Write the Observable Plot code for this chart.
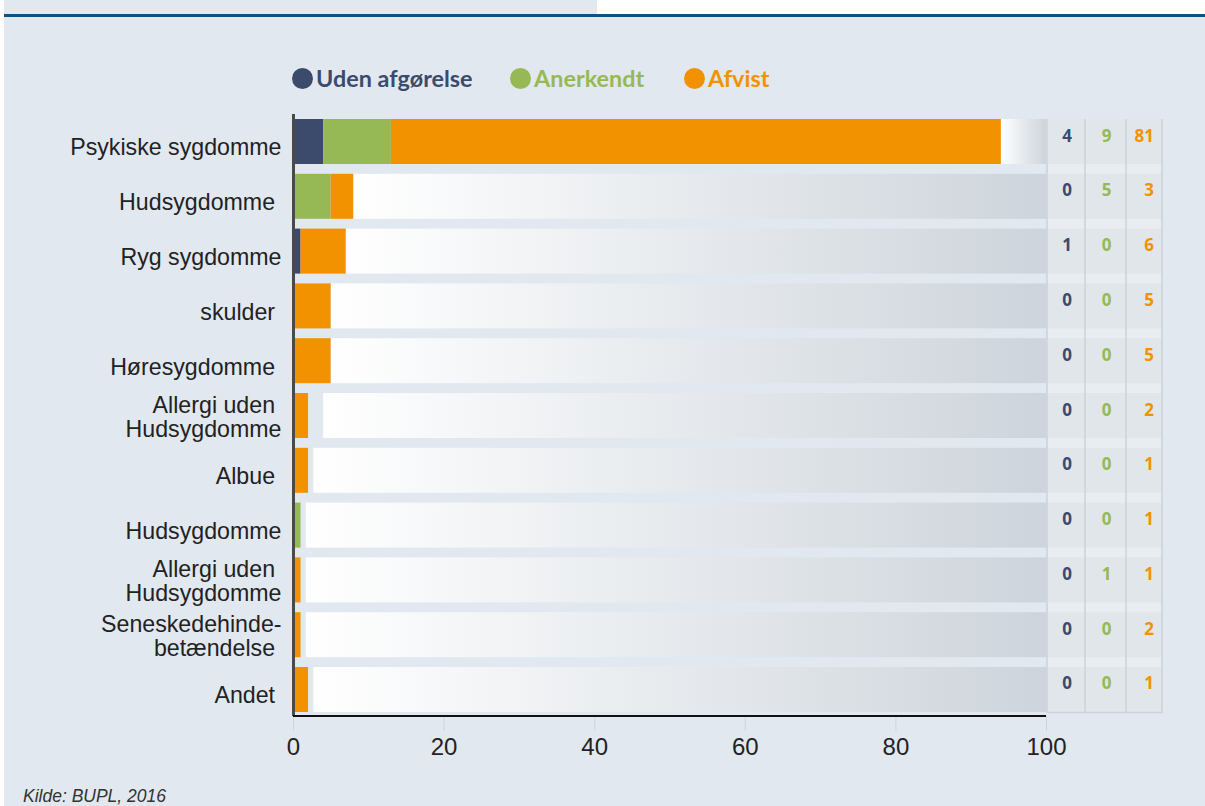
<!DOCTYPE html>
<html>
<head>
<meta charset="utf-8">
<script src="https://cdn.jsdelivr.net/npm/d3@7"></script>
<script src="https://cdn.jsdelivr.net/npm/@observablehq/plot@0.6"></script>
<style>
  html, body { margin: 0; padding: 0; background: #ffffff; width: 1205px; height: 806px; overflow: hidden; }
  #panel { position: absolute; left: 4px; top: 17px; width: 1201px; height: 789px; background: #e1e8f0; }
  #topleft { position: absolute; left: 4px; top: 0; width: 593px; height: 14px; background: #e1e8f0; }
  #topline { position: absolute; left: 4px; top: 14px; width: 1201px; height: 3px; background: #0d5282; }
  #chart { position: absolute; left: 0; top: 0; }
  .leg { position: absolute; top: 64px; height: 28px; display: flex; align-items: center; font-family: Lato, "Open Sans", sans-serif; font-weight: 700; font-size: 23.4px; line-height: 28px; white-space: nowrap; }
  .leg .dot { width: 21px; height: 21px; border-radius: 50%; margin-right: 3px; }
  #caption { position: absolute; left: 23px; top: 786px; font-family: "Liberation Sans", Arial, sans-serif; font-style: italic; font-size: 17.5px; line-height: 20px; color: #333; }
</style>
</head>
<body>
<div id="topleft"></div>
<div id="topline"></div>
<div id="panel"></div>
<div id="legend"></div>
<div id="chart"></div>
<div id="caption">Kilde: BUPL, 2016</div>
<script>
// ---- data ----
const categories = [
  "Psykiske sygdomme",
  "Hudsygdomme\u00a0",
  "Ryg sygdomme",
  "skulder\u00a0",
  "Høresygdomme\u00a0",
  "Allergi uden\u00a0\nHudsygdomme",
  "Albue\u00a0",
  "Hudsygdomme",
  "Allergi uden\u00a0\nHudsygdomme",
  "Seneskedehinde-\nbetændelse\u00a0",
  "Andet\u00a0"
];
const series = ["Uden afgørelse", "Anerkendt", "Afvist"];
const seriesColors = ["#3c4b6c", "#97b955", "#f39200"];
// bar lengths as drawn
const barUden      = [4, 0, 1, 0, 0, 0, 0, 0, 0, 0, 0];
const barAnerkendt = [9, 5, 0, 0, 0, 0, 0, 1, 0, 0, 0];
const barAfvist    = [81, 3, 6, 5, 5, 2, 2, 0, 1, 1, 2];
// where the pale remainder bar starts
const remainderStart = [94, 8, 7, 5, 5, 4, 2.7, 1.7, 1.7, 1.7, 2.7];
// numbers printed in the table on the right
const tabUden      = [4, 0, 1, 0, 0, 0, 0, 0, 0, 0, 0];
const tabAnerkendt = [9, 5, 0, 0, 0, 0, 0, 0, 1, 0, 0];
const tabAfvist    = [81, 3, 6, 5, 5, 2, 1, 1, 1, 2, 1];
const xTicks = [0, 20, 40, 60, 80, 100];
const xMax = 100;

// ---- derived tables ----
const idx = categories.map((_, i) => i);
const barSeries = [barUden, barAnerkendt, barAfvist];
const tabSeries = [tabUden, tabAnerkendt, tabAfvist];
const long = series.flatMap((s, k) => idx.map(i => ({i, s, v: barSeries[k][i]})));
const rest = idx.map(i => ({i, x1: remainderStart[i], x2: xMax}));
const multi = idx.filter(i => categories[i].includes("\n"));
const single = idx.filter(i => !categories[i].includes("\n"));

// ---- legend ----
const legendLeft = [292, 510, 684];
const legend = document.getElementById("legend");
series.forEach((s, k) => {
  const d = document.createElement("div");
  d.className = "leg";
  d.style.left = legendLeft[k] + "px";
  d.style.color = seriesColors[k];
  d.innerHTML = `<span class="dot" style="background:${seriesColors[k]}"></span><span>${s}</span>`;
  legend.appendChild(d);
});

const labelFont = '"Liberation Sans", Arial, sans-serif';
const plot = Plot.plot({
  width: 1205,
  height: 770,
  marginLeft: 293,
  marginRight: 159,
  marginTop: 114,
  marginBottom: 54,
  style: {background: "transparent", fontFamily: labelFont, color: "#222", overflow: "visible"},
  x: {domain: [0, xMax], label: null},
  y: {domain: idx, range: [109.2, 721.8], padding: 0.179, round: false, label: null},
  color: {domain: series, range: seriesColors},
  marks: [
    Plot.barX(rest, {x1: "x1", x2: "x2", y: "i", fill: "url(#restGrad)"}),
    Plot.barX(long, {x: "v", y: "i", fill: "s"}),
    Plot.ruleX([0], {stroke: "#4a4a4a", strokeWidth: 3}),
    Plot.axisX({ticks: xTicks, tickSize: 15, tickPadding: 6, stroke: "#cfd4da", fill: "#222", fontSize: 24, label: null}),
    Plot.axisY(single, {tickSize: 0, tickPadding: 12, tickFormat: i => categories[i], fontSize: 23.2, dy: 6, fill: "#222", label: null}),
    Plot.axisY(multi, {tickSize: 0, tickPadding: 12, tickFormat: i => categories[i], fontSize: 23.2, dy: 1, lineHeight: 1.04, fill: "#222", label: null})
  ]
});
document.getElementById("chart").appendChild(plot);

// gradient for the remainder bars
const svg = d3.select(plot);
const defs = svg.insert("defs", ":first-child");
const grad = defs.append("linearGradient").attr("id", "restGrad").attr("x1", "0").attr("x2", "1").attr("y1", "0").attr("y2", "0");
grad.append("stop").attr("offset", "0%").attr("stop-color", "#ffffff");
grad.append("stop").attr("offset", "100%").attr("stop-color", "#cdd4db");

const xs = plot.scale("x");
const ys = plot.scale("y");
const x100 = xs.apply(xMax);
const x0 = xs.apply(0);
const bw = ys.bandwidth;
const baseY = 770 - 54;

// baseline
svg.append("line").attr("x1", x0).attr("x2", x100).attr("y1", baseY).attr("y2", baseY)
  .attr("stroke", "#111").attr("stroke-width", 2);

// table
const edges = [1, 39, 80, 116];
const top0 = ys.apply(idx[0]);
const bot0 = ys.apply(idx[idx.length - 1]) + bw;
const tg = svg.append("g");
tg.append("rect").attr("x", x100 + edges[0]).attr("y", top0).attr("width", edges[3] - edges[0]).attr("height", bot0 - top0).attr("fill", "#e9edf1");
idx.forEach(i => {
  tg.append("rect").attr("x", x100 + edges[0]).attr("y", ys.apply(i)).attr("width", edges[3] - edges[0]).attr("height", bw).attr("fill", "#e1e6ea");
});
edges.forEach(e => {
  tg.append("line").attr("x1", x100 + e).attr("x2", x100 + e).attr("y1", top0).attr("y2", bot0 + 1)
    .attr("stroke", "#cbd2d8").attr("stroke-width", 1.5);
});
tg.append("line").attr("x1", x100 + edges[0]).attr("x2", x100 + edges[3]).attr("y1", bot0 + 0.5).attr("y2", bot0 + 0.5)
  .attr("stroke", "#cbd2d8").attr("stroke-width", 1.5);
const colX = [21, 60.5, 108];
const colAnchor = ["middle", "middle", "end"];
tabSeries.forEach((arr, k) => {
  idx.forEach(i => {
    tg.append("text").attr("x", x100 + colX[k]).attr("y", ys.apply(i) + bw / 2)
      .attr("text-anchor", colAnchor[k]).attr("fill", seriesColors[k])
      .attr("font-family", '"Open Sans", sans-serif').attr("font-weight", 700).attr("font-size", 17)
      .text(arr[i]);
  });
});
</script>
</body>
</html>
